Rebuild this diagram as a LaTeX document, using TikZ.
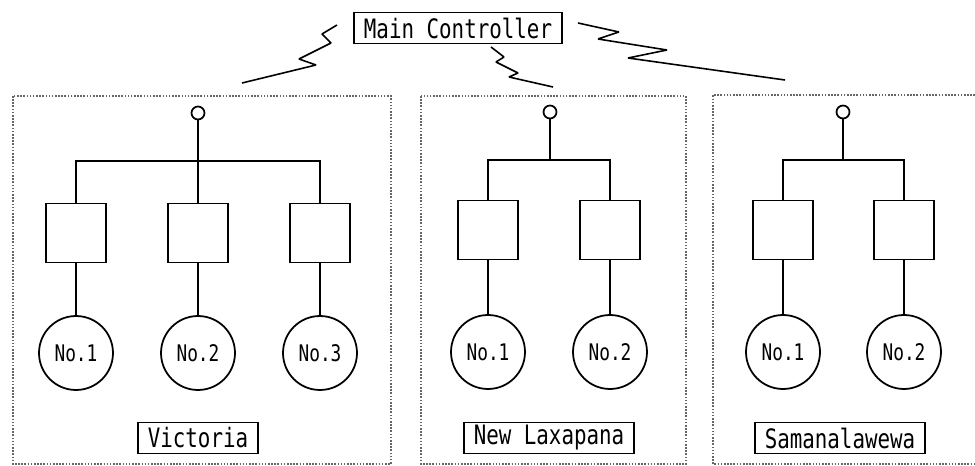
\documentclass[tikz,border=0pt]{standalone}
\usepackage{fontspec}
\newfontfamily\gothic[FakeStretch=0.78]{DejaVu Sans Mono}

\begin{document}
\begin{tikzpicture}[x = 0.02cm, y = -0.02cm, line width = 1pt,
	site/.style = {draw = black!60, line width = 0.8pt, dash pattern = on 0.9pt off 0.9pt},
	tag/.style = {draw, font = \gothic\fontsize{15.2}{16}\selectfont, inner xsep = 0.2cm, inner ysep = 0pt, minimum height = 0.62cm},
	antenna/.style = {circle, draw, inner sep = 0pt, minimum size = 0.26cm},
	unit/.style = {rectangle, draw, minimum width = 1.2cm, minimum height = 1.18cm},
	gen/.style = {circle, draw, inner sep = 0pt, minimum size = 1.48cm, font = \gothic\fontsize{13}{14}\selectfont},
	link/.style = {line width = 0.9pt, line join = bevel}]
			\useasboundingbox (0,0) rectangle (975,466);
			% controller and radio links
			\node (mc) at (458,28) [tag] {Main Controller};
			\coordinate (zl) at (337,25);
			\coordinate (zm) at (491,47);
			\coordinate (zr) at (578,23);
			\draw[link] (zl) -- (322,34) -- (331,43) -- (299,59) -- (316,65) -- (242,83);
			\draw[link] (zm) -- (504,57) -- (496,62) -- (518,73) -- (509,77) -- (553,87);
			\draw[link] (zr) -- (619,32) -- (598,39) -- (667,50) -- (628,58) -- (785,80);
			% Victoria
			\draw[site] (13,96) rectangle (391,464);
			\node (va) at (198,113) [antenna] {};
			\node (vb1) at (76,233) [unit] {};
			\node (vb2) at (198,233) [unit] {};
			\node (vb3) at (320,233) [unit] {};
			\node (vg1) at (76,353) [gen] {No.1};
			\node (vg2) at (198,353) [gen] {No.2};
			\node (vg3) at (320,353) [gen] {No.3};
			\node (vt) at (198,438) [tag] {Victoria};
			\coordinate (vbus) at (198,161);
			\draw (va) edge (vb2);
			\draw (vb1.north) |- (vbus) -| (vb3.north);
			\draw (vb1) edge (vg1);
			\draw (vb2) edge (vg2);
			\draw (vb3) edge (vg3);
			% New Laxapana
			\draw[site] (421,96) rectangle (686,464);
			\node (na) at (550,112) [antenna] {};
			\node (nb1) at (488,230) [unit] {};
			\node (nb2) at (610,230) [unit] {};
			\node (ng1) at (488,352) [gen] {No.1};
			\node (ng2) at (610,352) [gen] {No.2};
			\node (nt) at (549,438) [tag] {New Laxapana};
			\coordinate (nbus) at (550,160);
			\draw (na) edge (nbus);
			\draw (nb1.north) |- (nbus) -| (nb2.north);
			\draw (nb1) edge (ng1);
			\draw (nb2) edge (ng2);
			% Samanalawewa
			\draw[site] (975,95) -| (713,464) -- (975,464);
			\node (sa) at (843,112) [antenna] {};
			\node (sb1) at (783,230) [unit] {};
			\node (sb2) at (904,230) [unit] {};
			\node (sg1) at (783,352) [gen] {No.1};
			\node (sg2) at (904,352) [gen] {No.2};
			\node (st) at (840,438) [tag] {Samanalawewa};
			\coordinate (sbus) at (843,160);
			\draw (sa) edge (sbus);
			\draw (sb1.north) |- (sbus) -| (sb2.north);
			\draw (sb1) edge (sg1);
			\draw (sb2) edge (sg2);
\end{tikzpicture}
\end{document}
